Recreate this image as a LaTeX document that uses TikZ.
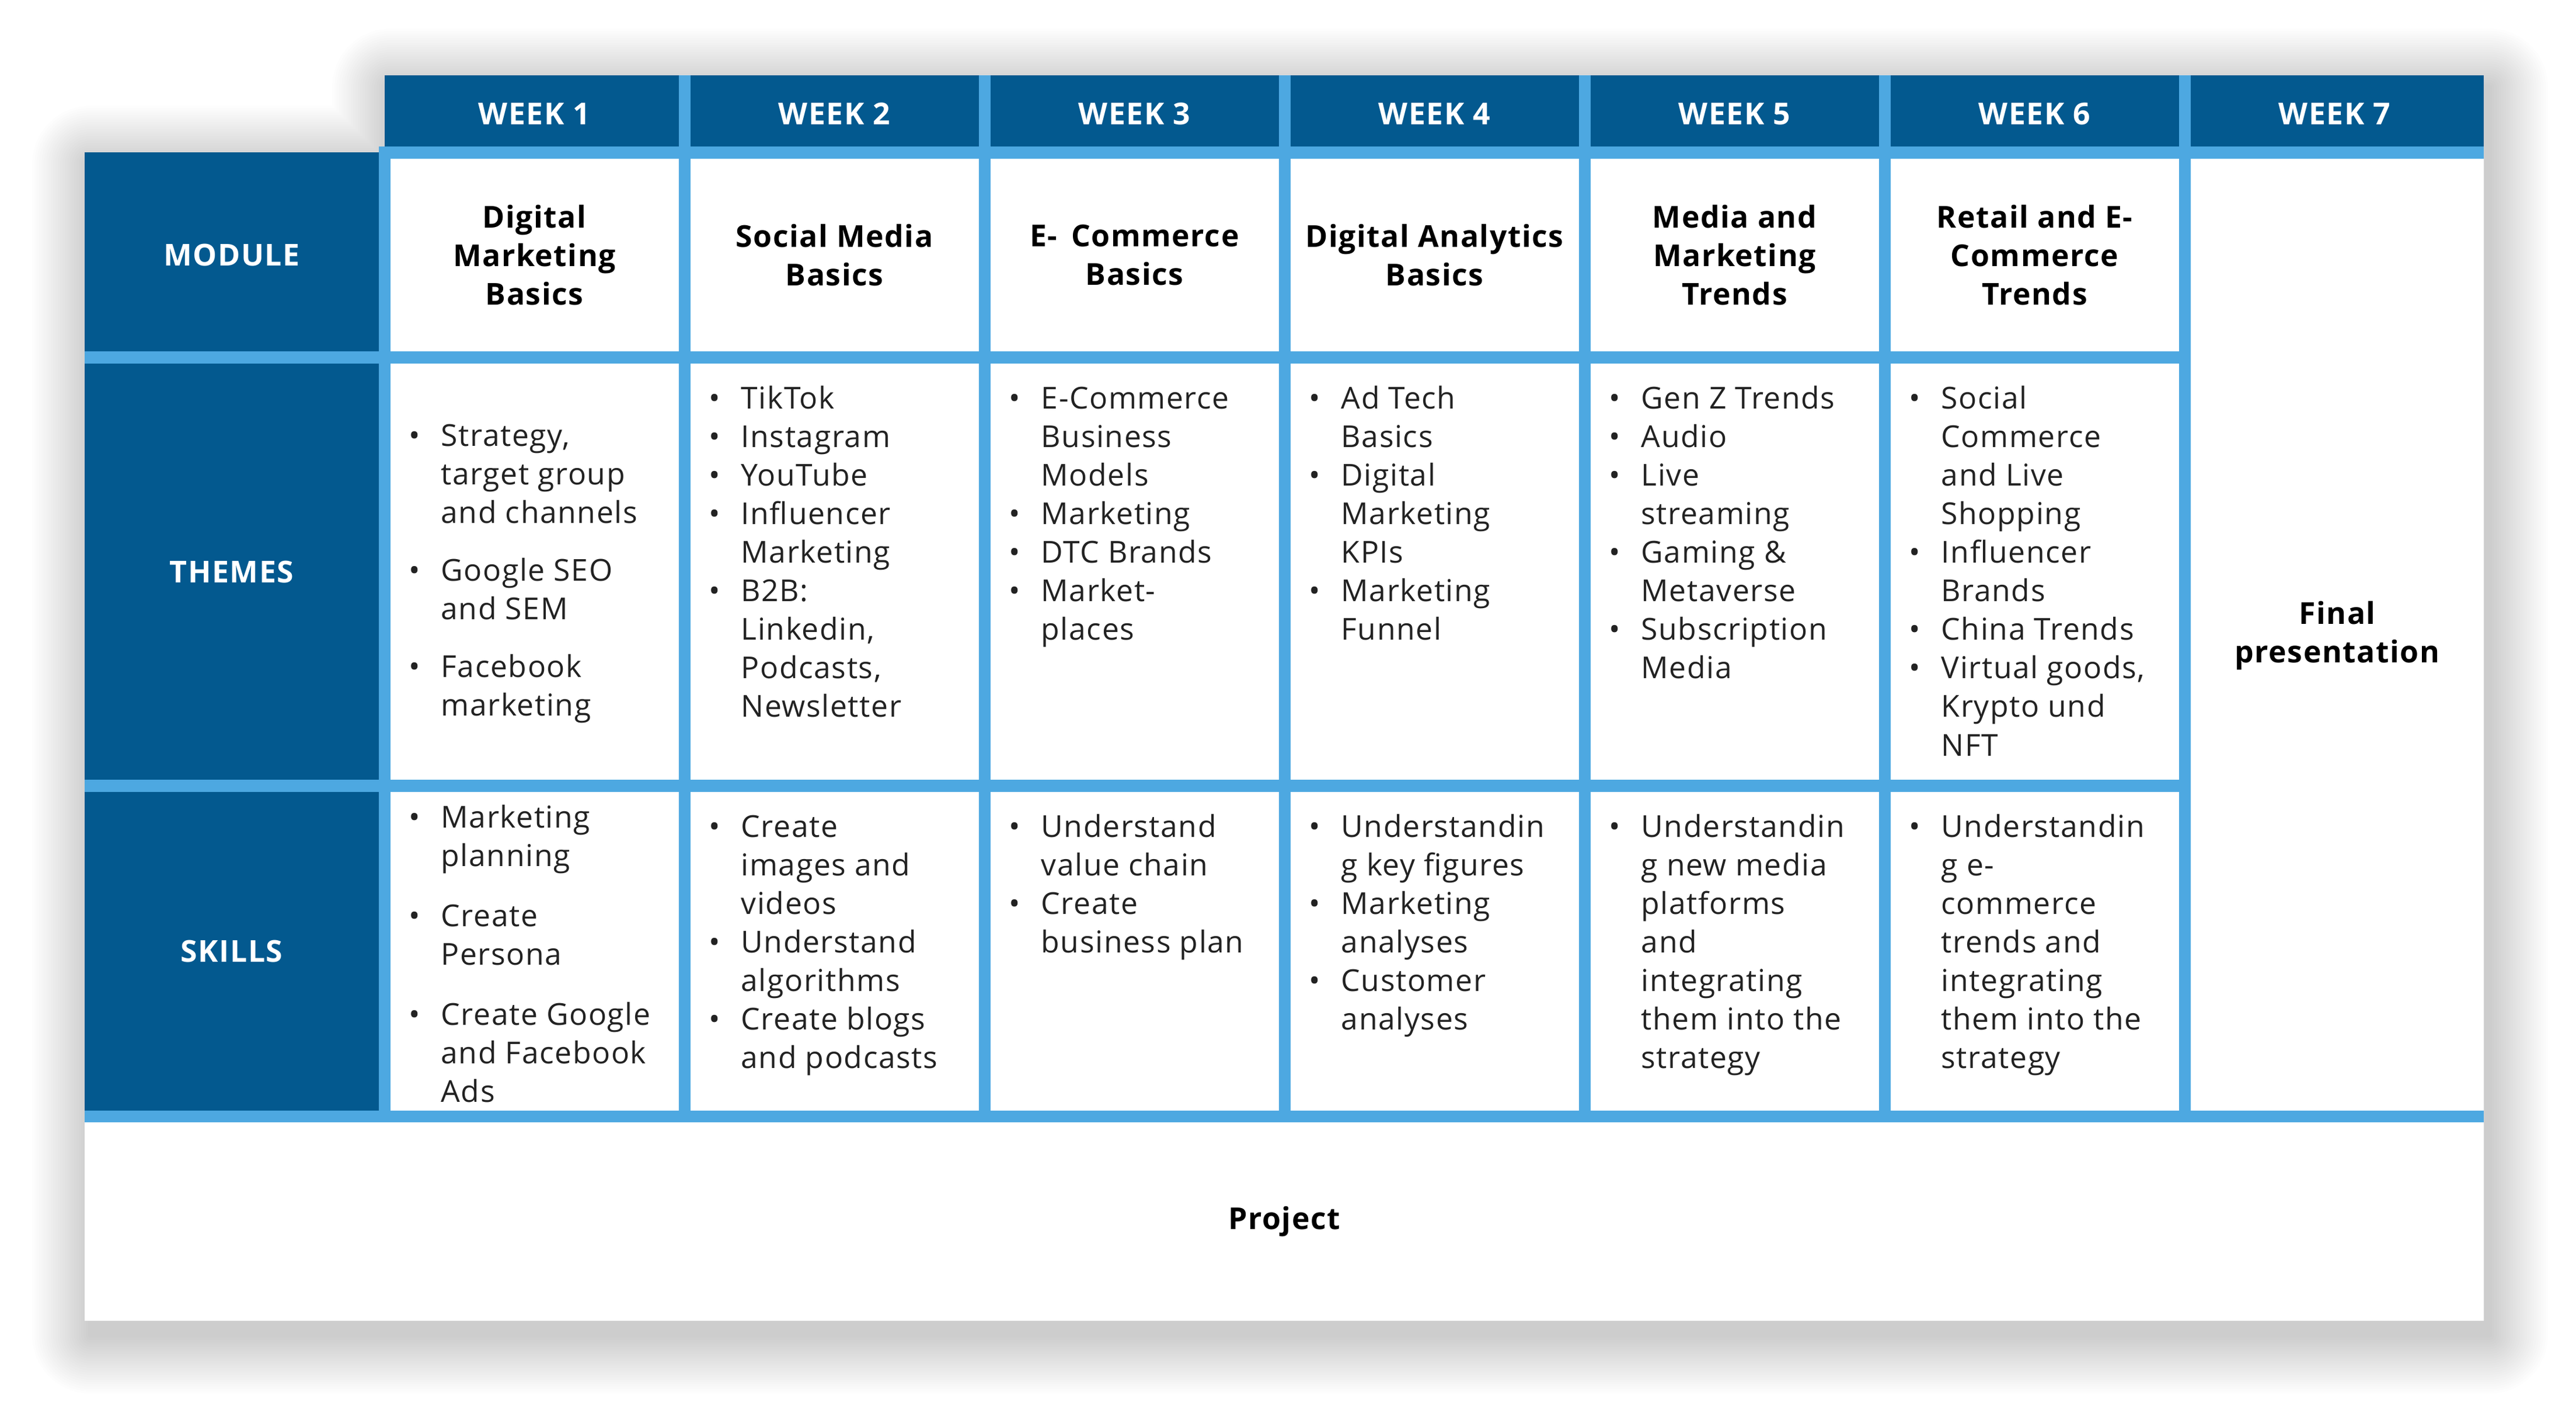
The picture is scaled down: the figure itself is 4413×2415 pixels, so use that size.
\documentclass[tikz,border=0pt]{standalone}
\usepackage{fontspec}
\setmainfont{Open Sans}[LetterSpace=3]
\usepackage{tikz}

\definecolor{darkblue}{HTML}{03598F}
\definecolor{lightblue}{HTML}{4DA8E1}
\definecolor{textgray}{HTML}{222222}

\newcommand{\bul}{\par\leftskip=0.55cm\noindent\llap{\makebox[0.55cm][l]{\textbullet}}}
\newcommand{\cellbox}[1]{\parbox[t]{4.6cm}{\raggedright\fontsize{14.7}{18.8}\selectfont #1}}

\tikzset{
	weekhead/.style={text=white, font=\bfseries\fontsize{14.7}{18.8}\selectfont},
	sidehead/.style={text=white, font=\bfseries\fontsize{14.7}{18.8}\selectfont},
	modtitle/.style={align=center, text=black, font=\bfseries\fontsize{14.7}{18.8}\selectfont},
	itemcell/.style={anchor=base west, inner sep=0pt, text=textgray}
}

\begin{document}
\begin{tikzpicture}[x=0.01cm, y=-0.01cm]
	\useasboundingbox (0,0) rectangle (4413,2415);
	% soft shadow
	\foreach \r [evaluate=\r as \rc using \r*0.01] in {4,8,...,100}
		\fill[black, opacity=0.009, rounded corners=\rc cm]
			(669-\r,149-\r) rectangle (4265+\r,2288+\r)
			(155-\r,281-\r) rectangle (4265+\r,2288+\r);
	\fill[white] (145,261) -- (659,261) -- (659,129) -- (4255,129) -- (4255,2263) -- (145,2263) -- cycle;

	% grid lines and side panel
	\fill[lightblue] (649,251) rectangle (4255,1923);
	\fill[lightblue] (145,1903) rectangle (649,1923);
	\fill[darkblue] (145,261) rectangle (649,1903);
	\fill[lightblue] (145,602) rectangle (649,623);
	\fill[lightblue] (145,1336) rectangle (649,1357);

	% header
	\fill[darkblue] (659,129) rectangle (4255,251);
	\foreach \k in {1,...,6}
		\fill[lightblue] (649+514*\k,129) rectangle (669+514*\k,251);

	% cells
	\foreach \k in {0,...,5} {
		\fill[white] (669+514*\k,272) rectangle (1163+514*\k,602);
		\fill[white] (669+514*\k,623) rectangle (1163+514*\k,1336);
		\fill[white] (669+514*\k,1357) rectangle (1163+514*\k,1903);
	}
	\fill[white] (3753,272) rectangle (4255,1903);

	\foreach \k in {1,...,7}
		\node[weekhead] (week\k) at (401.5+514*\k,195) {WEEK \k};

	\node[sidehead] (module) at (397,437) {MODULE};
	\node[sidehead] (themes) at (397,980) {THEMES};
	\node[sidehead] (skills) at (397,1630) {SKILLS};

	\foreach \k/\txt in {1/{Digital\\Marketing\\Basics}, 2/{Social Media\\Basics}, 3/{E- \,Commerce\\Basics},
			4/{Digital Analytics\\Basics}, 5/{Media and\\Marketing\\Trends}, 6/{Retail and E-\\Commerce\\Trends}}
		\node[modtitle] (mod\k) at (401.5+514*\k,437) {\txt};

	% themes
	\node[itemcell] (theme1) at (700,764) {\cellbox{\bul Strategy,\\target group\\and channels\par\vspace{0.33cm}\bul Google SEO\\and SEM\par\vspace{0.33cm}\bul Facebook\\marketing}};
	\node[itemcell] (theme2) at (1214,700) {\cellbox{\bul TikTok\bul Instagram\bul YouTube\bul Influencer\\Marketing\bul B2B:\\Linkedin,\\Podcasts,\\Newsletter}};
	\node[itemcell] (theme3) at (1728,700) {\cellbox{\bul E-Commerce\\Business\\Models\bul Marketing\bul DTC Brands\bul Market-\\places}};
	\node[itemcell] (theme4) at (2242,700) {\cellbox{\bul Ad Tech\\Basics\bul Digital\\Marketing\\KPIs\bul Marketing\\Funnel}};
	\node[itemcell] (theme5) at (2756,700) {\cellbox{\bul Gen Z Trends\bul Audio\bul Live\\streaming\bul Gaming \&\\Metaverse\bul Subscription\\Media}};
	\node[itemcell] (theme6) at (3270,700) {\cellbox{\bul Social\\Commerce\\and Live\\Shopping\bul Influencer\\Brands\bul China Trends\bul Virtual goods,\\Krypto und\\NFT}};

	% skills
	\node[itemcell] (skill1) at (700,1418) {\cellbox{\bul Marketing\\planning\par\vspace{0.37cm}\bul Create\\Persona\par\vspace{0.37cm}\bul Create Google\\and Facebook\\Ads}};
	\node[itemcell] (skill2) at (1214,1434) {\cellbox{\bul Create\\images and\\videos\bul Understand\\algorithms\bul Create blogs\\and podcasts}};
	\node[itemcell] (skill3) at (1728,1434) {\cellbox{\bul Understand\\value chain\bul Create\\business plan}};
	\node[itemcell] (skill4) at (2242,1434) {\cellbox{\bul Understandin\\g key figures\bul Marketing\\analyses\bul Customer\\analyses}};
	\node[itemcell] (skill5) at (2756,1434) {\cellbox{\bul Understandin\\g new media\\platforms\\and\\integrating\\them into the\\strategy}};
	\node[itemcell] (skill6) at (3270,1434) {\cellbox{\bul Understandin\\g e-\\commerce\\trends and\\integrating\\them into the\\strategy}};

	\node[modtitle] (final) at (4004,1089) {Final\\presentation};
	\node[modtitle] (project) at (2200,2093) {Project};
\end{tikzpicture}
\end{document}
